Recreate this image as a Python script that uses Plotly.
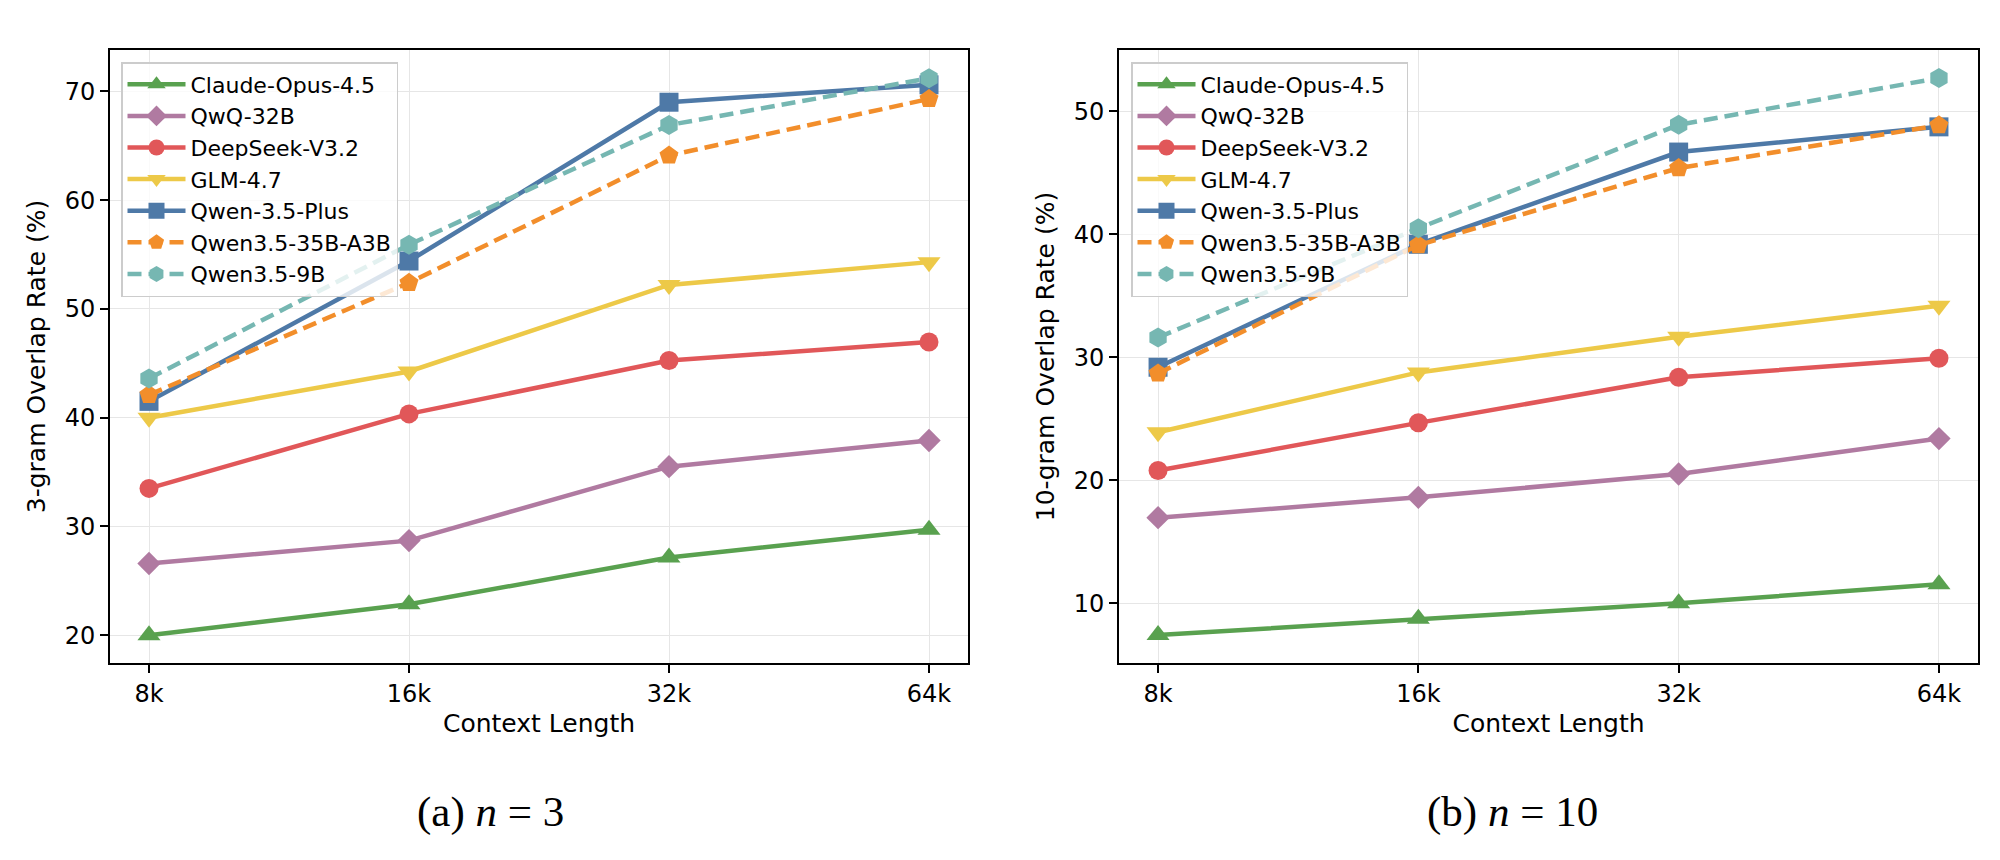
import plotly.graph_objects as go

contexts = ["8k", "16k", "32k", "64k"]
models = ["Claude-Opus-4.5", "QwQ-32B", "DeepSeek-V3.2", "GLM-4.7",
          "Qwen-3.5-Plus", "Qwen3.5-35B-A3B", "Qwen3.5-9B"]

# 3-gram overlap rate (%)
claude_3 = [20.0, 22.85, 27.15, 29.7]
qwq_3 = [26.6, 28.7, 35.5, 37.9]
deepseek_3 = [33.5, 40.35, 45.25, 46.95]
glm_3 = [40.0, 44.25, 52.2, 54.3]
qwenplus_3 = [41.5, 54.4, 69.0, 70.6]
qwen35b_3 = [42.1, 52.4, 64.1, 69.3]
qwen9b_3 = [43.6, 55.9, 66.9, 71.2]

# 10-gram overlap rate (%)
claude_10 = [7.42, 8.75, 10.0, 11.55]
qwq_10 = [16.97, 18.62, 20.52, 23.4]
deepseek_10 = [20.8, 24.68, 28.38, 29.93]
glm_10 = [23.92, 28.78, 31.68, 34.2]
qwenplus_10 = [29.2, 39.2, 46.7, 48.75]
qwen35b_10 = [28.7, 39.13, 45.4, 48.88]
qwen9b_10 = [31.62, 40.5, 48.92, 52.72]

series_3 = [claude_3, qwq_3, deepseek_3, glm_3, qwenplus_3, qwen35b_3, qwen9b_3]
series_10 = [claude_10, qwq_10, deepseek_10, glm_10, qwenplus_10, qwen35b_10, qwen9b_10]

colors = ["#59a14f", "#b07aa1", "#e15759", "#edc948", "#4e79a7", "#f28e2b", "#76b7b2"]
symbols = ["triangle-up", "diamond", "circle", "triangle-down", "square", "pentagon", "hexagon"]
sizes = [20, 18, 19, 20, 19, 20, 20]
dashes = ["solid", "solid", "solid", "solid", "solid", "14px,7px", "14px,7px"]

fig = go.Figure()
for i, name in enumerate(models):
    fig.add_trace(go.Scatter(
        x=contexts, y=series_3[i], name=name, mode="lines+markers",
        line=dict(color=colors[i], width=4.5, dash=dashes[i]),
        marker=dict(symbol=symbols[i], size=sizes[i], color=colors[i], line=dict(width=0)),
        xaxis="x", yaxis="y", legend="legend"))
for i, name in enumerate(models):
    fig.add_trace(go.Scatter(
        x=contexts, y=series_10[i], name=name, mode="lines+markers",
        line=dict(color=colors[i], width=4.5, dash=dashes[i]),
        marker=dict(symbol=symbols[i], size=sizes[i], color=colors[i], line=dict(width=0)),
        xaxis="x2", yaxis="y2", legend="legend2"))

font_main = "DejaVu Sans"
axis_common = dict(
    showline=True, linecolor="black", linewidth=1.8, mirror=True,
    showgrid=True, gridcolor="#e6e6e6", gridwidth=1.2,
    ticks="outside", ticklen=8, tickwidth=1.5, tickcolor="black",
    tickfont=dict(family=font_main, size=24, color="black"),
    zeroline=False,
)

legend_common = dict(
    y=1 - 62 / 860, xanchor="left", yanchor="top",
    bgcolor="rgba(255,255,255,0.8)", bordercolor="#cccccc", borderwidth=1.5,
    font=dict(family=font_main, size=22, color="black"),
    tracegroupgap=0, itemwidth=58,
)

ydom = [1 - 663 / 860, 1 - 50 / 860]
fig.update_layout(
    width=2000, height=860,
    margin=dict(l=0, r=0, t=0, b=0),
    paper_bgcolor="white", plot_bgcolor="white",
    font=dict(family=font_main, color="black"),
    xaxis=dict(domain=[110 / 2000, 968 / 2000], anchor="y", type="category",
               range=[-0.15, 3.15],
               title=dict(text="Context Length", font=dict(size=25, family=font_main), standoff=8),
               **axis_common),
    yaxis=dict(domain=ydom, anchor="x", range=[17.45, 73.8],
               tickvals=[20, 30, 40, 50, 60, 70],
               title=dict(text="3-gram Overlap Rate (%)", font=dict(size=25, family=font_main), standoff=12),
               **axis_common),
    xaxis2=dict(domain=[1119 / 2000, 1978 / 2000], anchor="y2", type="category",
                range=[-0.15, 3.15],
                title=dict(text="Context Length", font=dict(size=25, family=font_main), standoff=8),
                **axis_common),
    yaxis2=dict(domain=ydom, anchor="x2", range=[5.15, 55.0],
                tickvals=[10, 20, 30, 40, 50],
                title=dict(text="10-gram Overlap Rate (%)", font=dict(size=25, family=font_main), standoff=12),
                **axis_common),
    legend=dict(x=121 / 2000, **legend_common),
    legend2=dict(x=1131 / 2000, **legend_common),
    showlegend=True,
    annotations=[
        dict(text="(a) <i>n</i> = 3", x=490 / 2000, y=1 - 812 / 860, xref="paper", yref="paper",
             xanchor="center", yanchor="middle", showarrow=False,
             font=dict(family="Liberation Serif", size=43, color="black")),
        dict(text="(b) <i>n</i> = 10", x=1512 / 2000, y=1 - 812 / 860, xref="paper", yref="paper",
             xanchor="center", yanchor="middle", showarrow=False,
             font=dict(family="Liberation Serif", size=43, color="black")),
    ],
)

fig.write_html("out.html")
